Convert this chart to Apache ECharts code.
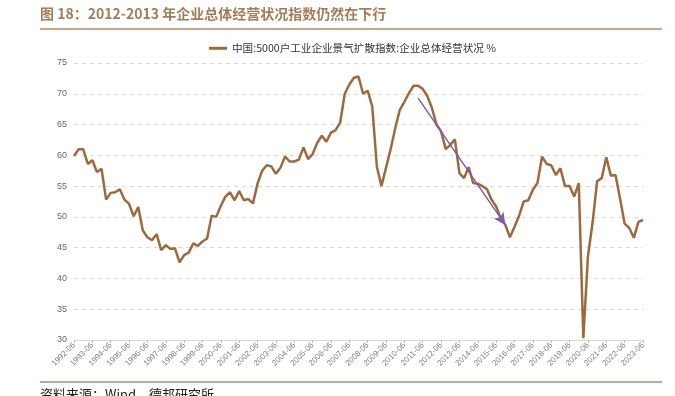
<!DOCTYPE html>
<html><head><meta charset="utf-8">
<script src="https://cdn.jsdelivr.net/npm/echarts@6/dist/echarts.min.js"></script>
<style>html,body{margin:0;padding:0;background:#fff}#c{width:675px;height:396px}</style>
</head><body><div id="c"></div>
<script>
const titleText = '图 18：2012-2013 年企业总体经营状况指数仍然在下行';
const seriesName = '中国:5000户工业企业景气扩散指数:企业总体经营状况 %';
const sourceText = '资料来源：Wind，德邦研究所';
const startYear = 1992;
const quarterMonths = ['06','09','12','03'];
const values = [
 59.9,61.0,61.0,58.6,59.2,57.3,57.8,52.8,53.9,54.0,54.5,52.8,52.1,50.1,51.6,47.8,46.7,46.2,47.2,44.6,
 45.4,44.8,44.9,42.6,43.8,44.2,45.7,45.3,46.0,46.5,50.2,50.0,51.8,53.3,54.0,52.7,54.2,52.7,52.9,52.2,
 55.4,57.5,58.4,58.2,57.0,58.0,59.8,59.0,59.0,59.3,61.3,59.4,60.2,62.0,63.2,62.2,63.7,64.1,65.3,70.0,
 71.5,72.6,72.8,70.0,70.5,67.9,58.2,55.0,58.0,61.0,64.4,67.4,68.7,70.1,71.3,71.3,70.8,69.6,67.7,65.0,
 63.9,61.0,61.7,62.6,57.1,56.3,58.1,55.5,55.4,55.0,54.5,52.8,51.7,49.8,48.7,46.7,48.4,50.2,52.5,52.7,
 54.4,55.5,59.8,58.6,58.4,56.8,57.9,55.0,55.0,53.3,55.5,30.3,43.6,49.0,55.8,56.3,59.7,56.7,56.8,53.0,
 48.9,48.2,46.6,49.2,49.5
];
const arrowStart = [74.9, 69.3];
const arrowEnd = [93.5, 48.7];
const yTicks = {min:30, max:75, interval:5};

// quarterly categories 1992-06 ... 2023-06
const categories = [];
for (let i = 0; i < values.length; i++) {
  const q = i % 4;
  const yr = startYear + Math.floor(i / 4) + (q === 3 ? 1 : 0);
  categories.push(yr + '-' + quarterMonths[q]);
}

const chart = echarts.init(document.getElementById('c'), null, {renderer:'canvas'});
const brown = '#9c6a3e';
chart.setOption({
  animation:false,
  graphic:[
    {type:'text', left:40, top:7, style:{text:titleText, fill:'#a37c58', font:'bold 14px "Noto Sans CJK SC", sans-serif'}},
    {type:'line', shape:{x1:40,y1:29,x2:662,y2:29}, style:{stroke:'#b08a68', lineWidth:1.5}},
    {type:'line', shape:{x1:40,y1:382,x2:662,y2:382}, style:{stroke:'#b08a68', lineWidth:1.5}},
    {type:'text', left:40, top:388, style:{text:sourceText, fill:'#222', font:'13px "Noto Sans CJK SC", sans-serif'}}
  ],
  legend:{top:38, left:204, itemWidth:18, itemHeight:3, itemGap:5, icon:'rect',
    textStyle:{fontSize:10.6, color:'#333', fontFamily:'"Noto Sans CJK SC", sans-serif'}},
  grid:{left:74, right:32, top:63, bottom:56},
  xAxis:{type:'category', data:categories, boundaryGap:false,
    axisLine:{lineStyle:{color:'#d9d9d9'}},
    axisTick:{interval:3, length:3, lineStyle:{color:'#bfbfbf'}},
    axisLabel:{interval:3, rotate:45, fontSize:8, color:'#7f7f7f', margin:4, fontFamily:'Liberation Sans, Arial'},
    splitLine:{show:false}},
  yAxis:{type:'value', min:yTicks.min, max:yTicks.max, interval:yTicks.interval,
    axisLine:{show:false}, axisTick:{show:false},
    axisLabel:{fontSize:9, color:'#666', margin:7, fontFamily:'Liberation Sans, Arial'},
    splitLine:{lineStyle:{type:[4,4], color:'#d9d9d9'}}},
  series:[{
    name:seriesName, type:'line', data:values, symbol:'none', lineStyle:{color:brown, width:2.5},
    itemStyle:{color:brown},
    markLine:{silent:true, symbol:['none','arrow'], symbolSize:[9,12], label:{show:false},
      lineStyle:{color:'#7c5fa8', width:1.5, type:'solid'},
      data:[[{coord:arrowStart},{coord:arrowEnd}]]}
  }]
});
</script></body></html>
